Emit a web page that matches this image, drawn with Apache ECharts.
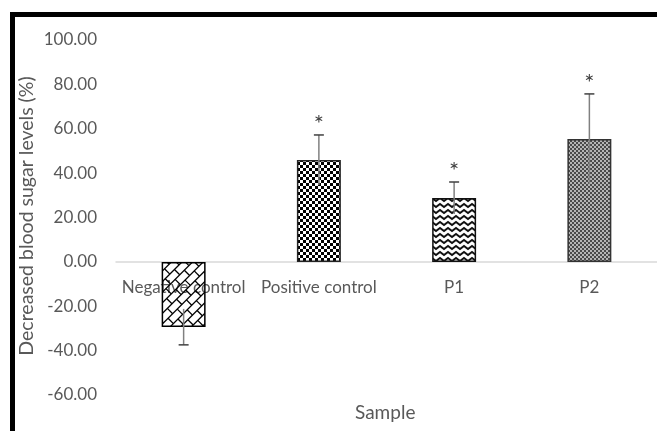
<!DOCTYPE html>
<html>
<head>
<meta charset="utf-8">
<script src="https://cdn.jsdelivr.net/npm/echarts@6/dist/echarts.min.js"></script>
<style>
html,body{margin:0;padding:0;background:#fff;}
#chart{width:657px;height:431px;}
</style>
</head>
<body>
<div id="chart"></div>
<script>
// ---- data ----
const categories = ['Negative control', 'Positive control', 'P1', 'P2'];
const meanValues = [-29.3, 45.9, 28.8, 55.4];
const errorValues = [8.1, 11.3, 7.2, 20.3];
const significance = ['', '*', '*', '*'];
const yTicks = { min: -60, max: 100, interval: 20 };

// ---- fill patterns (full-chart-size canvases) ----
const W = 660, H = 440;
function mk(){ const c = document.createElement('canvas'); c.width = W; c.height = H; return c; }

function brickPattern(){
  const c = mk(), g = c.getContext('2d');
  g.strokeStyle = '#000'; g.lineWidth = 1.3;
  g.save();
  g.translate(W/2, H/2); g.rotate(-Math.PI/4);
  const R = 600, row = 7.5, brick = 13;
  for (let r = -Math.ceil(R/row); r < R/row; r++) {
    const y = r*row;
    g.beginPath(); g.moveTo(-R, y); g.lineTo(R, y); g.stroke();
    const off = (Math.abs(r) % 2) * brick/2;
    for (let x = -R + off; x < R; x += brick) {
      g.beginPath(); g.moveTo(x, y); g.lineTo(x, y+row); g.stroke();
    }
  }
  g.restore();
  return c;
}
function checkerPattern(cell, a, b){
  const c = mk(), g = c.getContext('2d');
  for (let y = 0; y < H; y += cell) for (let x = 0; x < W; x += cell) {
    g.fillStyle = (((x/cell)+(y/cell)) % 2) ? a : b;
    g.fillRect(x, y, cell, cell);
  }
  return c;
}
function zigzagPattern(){
  const c = mk(), g = c.getContext('2d');
  g.fillStyle = '#fff'; g.fillRect(0,0,W,H);
  g.strokeStyle = '#111'; g.lineWidth = 2;
  const p = 8, amp = 3, row = 6;
  for (let y = 0; y < H + row; y += row) {
    g.beginPath();
    for (let x = -p, k = 0; x < W + p; x += p/2, k++) {
      const yy = y + ((k % 2) ? amp : 0);
      if (k === 0) g.moveTo(x, yy); else g.lineTo(x, yy);
    }
    g.stroke();
  }
  return c;
}

const fills = [
  { image: brickPattern(), repeat: 'repeat' },
  { image: checkerPattern(3, '#000', '#fff'), repeat: 'repeat' },
  { image: zigzagPattern(), repeat: 'repeat' },
  { image: checkerPattern(2, '#4a4a4a', '#b5b5b5'), repeat: 'repeat' }
];
const borders = ['#000', '#222', '#111', '#333'];

const chart = echarts.init(document.getElementById('chart'), null, { renderer: 'canvas' });
const FONT = 'Lato';
const TXT = '#595959';
const GRID_TOP = 40, GRID_BOTTOM = 36, CH = 431;
// pixel distance from the grid bottom up to the zero line (axis is moved there)
const zeroOffset = (CH - GRID_TOP - GRID_BOTTOM) * (0 - yTicks.min) / (yTicks.max - yTicks.min);

chart.setOption({
  animation: false,
  backgroundColor: '#fff',
  grid: { left: 116, right: 0, top: GRID_TOP, bottom: GRID_BOTTOM, containLabel: false },
  xAxis: {
    type: 'category',
    data: categories,
    z: 0,
    offset: -zeroOffset,
    axisLine: { onZero: false, lineStyle: { color: '#d9d9d9', width: 1.5 } },
    axisTick: { show: false },
    axisLabel: { color: TXT, fontFamily: FONT, fontSize: 17, margin: 17, interval: 0 }
  },
  yAxis: {
    type: 'value',
    min: yTicks.min, max: yTicks.max, interval: yTicks.interval,
    axisLine: { show: false },
    axisTick: { show: false },
    splitLine: { show: false },
    axisLabel: { color: TXT, fontFamily: FONT, fontSize: 17, margin: 19,
      formatter: v => v.toFixed(2) }
  },
  graphic: [
    { type: 'rect', shape: { x: 10, y: 12, width: 660, height: 5 }, style: { fill: '#000' }, z: 100 },
    { type: 'rect', shape: { x: 10, y: 12, width: 5, height: 430 }, style: { fill: '#000' }, z: 100 },
    { type: 'text', x: 27, y: 216, rotation: Math.PI / 2,
      style: { text: 'Decreased blood sugar levels (%)', fill: TXT, font: '19.5px Lato', align: 'center', verticalAlign: 'middle' } },
    { type: 'text', left: 387 - 32, top: 403, style: { text: 'Sample', fill: TXT, font: '19px Lato' } }
  ],
  series: [
    {
      type: 'bar',
      barWidth: '32.5%',
      z: 2,
      data: meanValues.map((v, i) => ({
        value: v,
        itemStyle: { color: fills[i], borderColor: borders[i], borderWidth: 1.5 }
      }))
    },
    {
      type: 'custom',
      z: 6,
      data: meanValues.map((v, i) => [i, v, errorValues[i], significance[i]]),
      renderItem: function (params, api) {
        const i = api.value(0), v = api.value(1), e = api.value(2);
        const star = significance[i];
        const top = api.coord([i, v + e]);
        const bot = api.coord([i, v - e]);
        const x = top[0];
        const outerY = v >= 0 ? top[1] : bot[1];
        const cw = 5;
        const children = [
          { type: 'line', shape: { x1: x, y1: top[1], x2: x, y2: bot[1] }, style: { stroke: '#808080', lineWidth: 1.5 } },
          { type: 'line', shape: { x1: x - cw, y1: outerY, x2: x + cw, y2: outerY }, style: { stroke: '#404040', lineWidth: 1.5 } }
        ];
        if (star) {
          children.push({ type: 'text', style: { text: star, x: x, y: outerY + 1, align: 'center', verticalAlign: 'bottom', fill: '#404040', font: '24px Lato' } });
        }
        return { type: 'group', children: children };
      }
    }
  ]
});
</script>
</body>
</html>
